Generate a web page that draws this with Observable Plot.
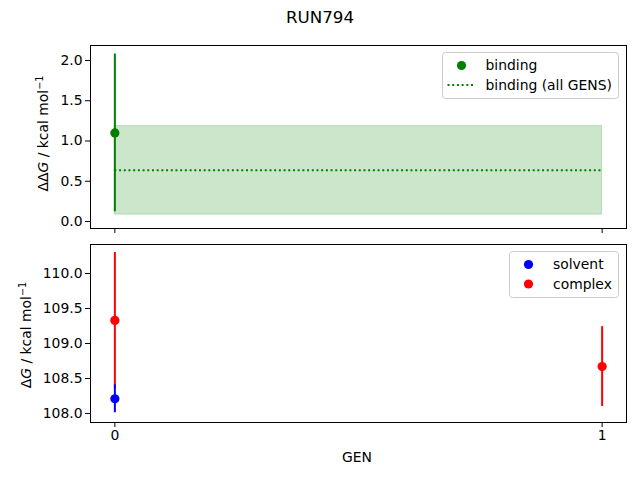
<!DOCTYPE html>
<html><head><meta charset="utf-8">
<script src="https://cdn.jsdelivr.net/npm/d3@7"></script>
<script src="https://cdn.jsdelivr.net/npm/@observablehq/plot@0.6"></script>
<style>
body{margin:0;background:#fff;font-family:"DejaVu Sans",sans-serif;}
#title{width:640px;height:34px;line-height:34px;text-align:center;font-size:16.7px;color:#000}
svg{display:block}
</style></head><body>
<div id="title">RUN794</div>
<div id="chart"></div>
<script>
// ---- data ----
const gens = [0, 1];
const bindingGen = [0];
const bindingMean = [1.10];
const bindingErr = [0.98];
const allGensMean = [0.635];
const allGensErr = [0.55];
const solventGen = [0];
const solventMean = [108.21];
const solventErr = [0.20];
const complexGen = [0, 1];
const complexMean = [109.33, 108.67];
const complexErr = [0.97, 0.57];
const ddgTicks = [0.0, 0.5, 1.0, 1.5, 2.0];
const dgTicks = [108.0, 108.5, 109.0, 109.5, 110.0];

const binding = bindingGen.map((g, i) => ({gen: g, mean: bindingMean[i], err: bindingErr[i]}));
const solvent = solventGen.map((g, i) => ({gen: g, mean: solventMean[i], err: solventErr[i]}));
const complex = complexGen.map((g, i) => ({gen: g, mean: complexMean[i], err: complexErr[i]}));
const band = allGensMean.map((m, i) => ({x1: gens[0], x2: gens[gens.length - 1], mean: m, lo: m - allGensErr[i], hi: m + allGensErr[i]}));

const FONT = "DejaVu Sans";
const FS = 13.9;
const LW = 2;
const R = 4.6;
const DOT = "2,2.7";
const common = {
  width: 640, marginLeft: 90, marginRight: 14,
  style: {fontFamily: FONT, fontSize: FS + "px", color: "#000", background: "#fff", overflow: "visible"}
};
const xDomain = [-0.05, 1.05];

const topPlot = Plot.plot({
  ...common, height: 202, marginTop: 11, marginBottom: 8,
  x: {domain: xDomain},
  y: {domain: [-0.087, 2.186]},
  marks: [
    Plot.rect(band, {x1: "x1", x2: "x2", y1: "lo", y2: "hi", fill: "green", fillOpacity: 0.2, stroke: "green", strokeOpacity: 0.2}),
    Plot.ruleY(band, {x1: "x1", x2: "x2", y: "mean", stroke: "green", strokeWidth: LW, strokeDasharray: DOT}),
    Plot.ruleX(binding, {x: "gen", y1: d => d.mean - d.err, y2: d => d.mean + d.err, stroke: "green", strokeWidth: LW}),
    Plot.dot(binding, {x: "gen", y: "mean", r: R, fill: "green"}),
    Plot.axisX({ticks: gens, tickFormat: () => "", tickSize: 5, tickPadding: 3, label: null}),
    Plot.axisY({ticks: ddgTicks, tickFormat: d => d.toFixed(1), tickSize: 5, tickPadding: 3, label: null}),
    Plot.frame({stroke: "#000"})
  ]
});

const botPlot = Plot.plot({
  ...common, height: 244, marginTop: 8, marginBottom: 58,
  x: {domain: xDomain},
  y: {domain: [107.871, 110.414]},
  marks: [
    Plot.ruleX(complex, {x: "gen", y1: d => d.mean - d.err, y2: d => d.mean + d.err, stroke: "red", strokeWidth: LW}),
    Plot.dot(complex, {x: "gen", y: "mean", r: R, fill: "red"}),
    Plot.ruleX(solvent, {x: "gen", y1: d => d.mean - d.err, y2: d => d.mean + d.err, stroke: "blue", strokeWidth: LW}),
    Plot.dot(solvent, {x: "gen", y: "mean", r: R, fill: "blue"}),
    Plot.axisX({ticks: gens, tickFormat: d => String(d), tickSize: 5, tickPadding: 3, label: null}),
    Plot.axisY({ticks: dgTicks, tickFormat: d => d.toFixed(1), tickSize: 5, tickPadding: 3, label: null}),
    Plot.frame({stroke: "#000"})
  ]
});

const chart = document.getElementById("chart");
chart.appendChild(topPlot);
chart.appendChild(botPlot);

function yLabel(svg, cx, cy, prefix) {
  const t = d3.select(svg).append("text")
    .attr("transform", `translate(${cx},${cy}) rotate(-90)`)
    .attr("text-anchor", "middle")
    .attr("font-family", FONT).attr("font-size", FS).attr("fill", "#000");
  t.append("tspan").text(prefix);
  t.append("tspan").attr("font-style", "italic").text("G");
  t.append("tspan").text(" / kcal mol");
  t.append("tspan").attr("font-size", FS * 0.7).attr("dy", "-0.5em").text("\u22121");
}
yLabel(topPlot, 48, 99.5, "\u0394\u0394");
yLabel(botPlot, 30.5, 99, "\u0394");

d3.select(botPlot).append("text")
  .attr("x", 357).attr("y", 226).attr("text-anchor", "middle")
  .attr("font-family", FONT).attr("font-size", FS).attr("fill", "#000").text("GEN");

function legend(svg, x, y, w, h, items) {
  const g = d3.select(svg).append("g").attr("text-anchor", "start");
  g.append("rect").attr("x", x).attr("y", y).attr("width", w).attr("height", h)
    .attr("rx", 3).attr("fill", "#fff").attr("fill-opacity", 0.8).attr("stroke", "#ccc");
  items.forEach((it, i) => {
    const cy = y + 13 + i * 19.5;
    if (it.type === "dot") {
      g.append("circle").attr("cx", x + 19).attr("cy", cy).attr("r", R).attr("fill", it.color);
    } else {
      g.append("line").attr("x1", x + 5).attr("x2", x + 33).attr("y1", cy).attr("y2", cy)
        .attr("stroke", it.color).attr("stroke-width", LW).attr("stroke-dasharray", DOT);
    }
    g.append("text").attr("x", x + it.tx).attr("y", cy).attr("dy", "0.35em")
      .attr("text-anchor", "start")
      .attr("font-family", FONT).attr("font-size", FS).attr("fill", "#000").text(it.label);
  });
}
legend(topPlot, 442.5, 18.5, 176, 46, [
  {type: "dot", color: "green", label: "binding", tx: 43},
  {type: "line", color: "green", label: "binding (all GENS)", tx: 43}
]);
legend(botPlot, 509.5, 15.5, 109, 46, [
  {type: "dot", color: "blue", label: "solvent", tx: 43.5},
  {type: "dot", color: "red", label: "complex", tx: 43.5}
]);
</script>
</body></html>
